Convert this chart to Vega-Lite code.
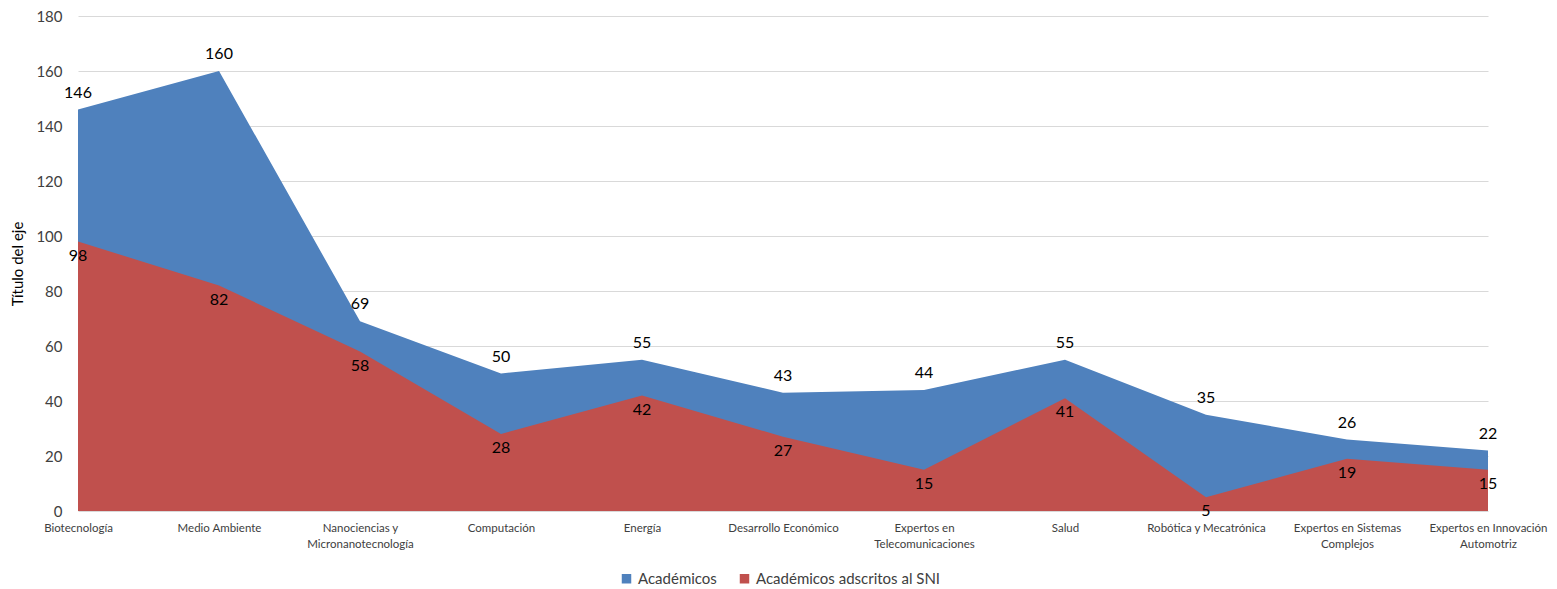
{
  "$schema": "https://vega.github.io/schema/vega-lite/v6.json",
  "width": 1410,
  "height": 495,
  "autosize": {"type": "none"},
  "padding": {"left": 78, "top": 16, "right": 69, "bottom": 78},
  "background": "white",
  "config": {
    "font": "Lato",
    "view": {"stroke": null}
  },
  "data": {
    "values": [
      {"categoria": "Biotecnología", "serie": "Académicos", "valor": 146},
      {"categoria": "Medio Ambiente", "serie": "Académicos", "valor": 160},
      {"categoria": "Nanociencias y Micronanotecnología", "serie": "Académicos", "valor": 69},
      {"categoria": "Computación", "serie": "Académicos", "valor": 50},
      {"categoria": "Energía", "serie": "Académicos", "valor": 55},
      {"categoria": "Desarrollo Económico", "serie": "Académicos", "valor": 43},
      {"categoria": "Expertos en Telecomunicaciones", "serie": "Académicos", "valor": 44},
      {"categoria": "Salud", "serie": "Académicos", "valor": 55},
      {"categoria": "Robótica y Mecatrónica", "serie": "Académicos", "valor": 35},
      {"categoria": "Expertos en Sistemas Complejos", "serie": "Académicos", "valor": 26},
      {"categoria": "Expertos en Innovación Automotriz", "serie": "Académicos", "valor": 22},
      {"categoria": "Biotecnología", "serie": "Académicos adscritos al SNI", "valor": 98},
      {"categoria": "Medio Ambiente", "serie": "Académicos adscritos al SNI", "valor": 82},
      {"categoria": "Nanociencias y Micronanotecnología", "serie": "Académicos adscritos al SNI", "valor": 58},
      {"categoria": "Computación", "serie": "Académicos adscritos al SNI", "valor": 28},
      {"categoria": "Energía", "serie": "Académicos adscritos al SNI", "valor": 42},
      {"categoria": "Desarrollo Económico", "serie": "Académicos adscritos al SNI", "valor": 27},
      {"categoria": "Expertos en Telecomunicaciones", "serie": "Académicos adscritos al SNI", "valor": 15},
      {"categoria": "Salud", "serie": "Académicos adscritos al SNI", "valor": 41},
      {"categoria": "Robótica y Mecatrónica", "serie": "Académicos adscritos al SNI", "valor": 5},
      {"categoria": "Expertos en Sistemas Complejos", "serie": "Académicos adscritos al SNI", "valor": 19},
      {"categoria": "Expertos en Innovación Automotriz", "serie": "Académicos adscritos al SNI", "valor": 15}
    ]
  },
  "encoding": {
    "x": {
      "field": "categoria",
      "type": "nominal",
      "sort": null,
      "title": null,
      "scale": {"type": "point", "padding": 0},
      "axis": {
        "labelAngle": 0,
        "labelFontSize": 11.5,
        "labelColor": "#404040",
        "labelBaseline": "top",
        "labelLineHeight": 16,
        "labelPadding": 11,
        "labelLimit": 300,
        "labelOverlap": false,
        "ticks": false,
        "domain": false,
        "grid": false,
        "labelExpr": "datum.label == 'Nanociencias y Micronanotecnología' ? ['Nanociencias y', 'Micronanotecnología'] : datum.label == 'Expertos en Telecomunicaciones' ? ['Expertos en', 'Telecomunicaciones'] : datum.label == 'Expertos en Sistemas Complejos' ? ['Expertos en Sistemas', 'Complejos'] : datum.label == 'Expertos en Innovación Automotriz' ? ['Expertos en Innovación', 'Automotriz'] : datum.label"
      }
    },
    "y": {
      "field": "valor",
      "type": "quantitative",
      "stack": null,
      "scale": {"domain": [0, 180], "nice": false},
      "axis": {
        "title": "Título del eje",
        "titleFontSize": 15,
        "titleFontWeight": "normal",
        "titleColor": "#000000",
        "titlePadding": 10,
        "values": [0, 20, 40, 60, 80, 100, 120, 140, 160, 180],
        "labelFontSize": 15,
        "labelColor": "#404040",
        "labelPadding": 16,
        "ticks": false,
        "domain": false,
        "grid": true,
        "gridColor": "#d9d9d9",
        "gridWidth": 1
      }
    }
  },
  "layer": [
    {
      "transform": [{"filter": "datum.serie == 'Académicos'"}],
      "mark": {"type": "area", "opacity": 1},
      "encoding": {
        "color": {
          "field": "serie",
          "type": "nominal",
          "title": null,
          "scale": {"domain": ["Académicos", "Académicos adscritos al SNI"], "range": ["#4F81BD", "#C0504D"]},
          "legend": {
            "orient": "none",
            "direction": "horizontal",
            "legendX": 541,
            "legendY": 555,
            "symbolType": "square",
            "symbolSize": 90,
            "symbolStrokeWidth": 0,
            "labelFontSize": 15,
            "labelColor": "#404040",
            "labelLimit": 400,
            "columnPadding": 20,
            "labelOffset": 4
          }
        }
      }
    },
    {
      "transform": [{"filter": "datum.serie == 'Académicos adscritos al SNI'"}],
      "mark": {"type": "area", "opacity": 1},
      "encoding": {
        "color": {"field": "serie", "type": "nominal"}
      }
    },
    {
      "transform": [{"filter": "datum.serie == 'Académicos'"}],
      "mark": {"type": "text", "fontSize": 16, "color": "#000000", "dy": -17, "baseline": "middle"},
      "encoding": {"text": {"field": "valor", "type": "quantitative"}}
    },
    {
      "transform": [{"filter": "datum.serie == 'Académicos adscritos al SNI'"}],
      "mark": {"type": "text", "fontSize": 16, "color": "#000000", "dy": 14, "baseline": "middle"},
      "encoding": {"text": {"field": "valor", "type": "quantitative"}}
    }
  ]
}
